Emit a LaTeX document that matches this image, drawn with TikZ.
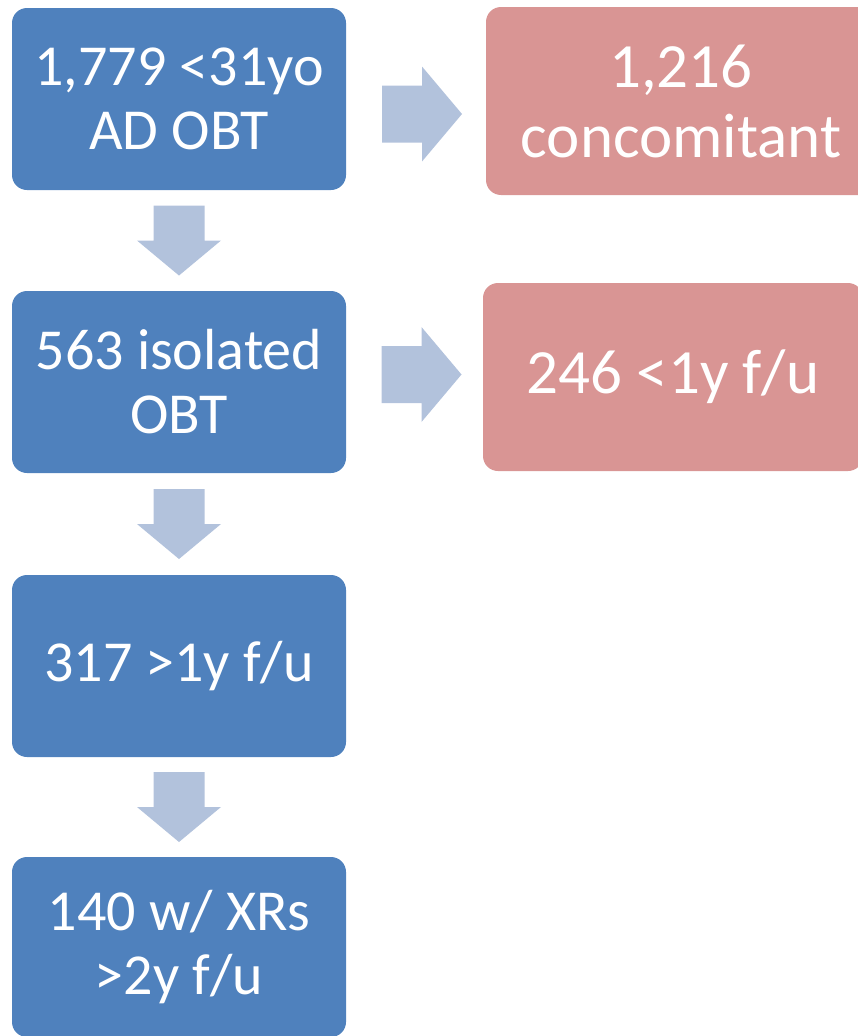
\documentclass[tikz,border=0pt]{standalone}
\usepackage{fontspec}
\setmainfont{Carlito}
\usetikzlibrary{calc}
\definecolor{boxblue}{RGB}{79,129,189}
\definecolor{boxpink}{RGB}{217,149,148}
\definecolor{arrowblue}{RGB}{178,194,220}
\newcommand{\blockarrow}[5]{\fill[arrowblue, shift={(#1)}, rotate=#2] (-#3,-#4) -- (0,-#4) -- (0,-#5) -- (#3,0) -- (0,#5) -- (0,#4) -- (-#3,#4) -- cycle;}

\begin{document}
\begin{tikzpicture}[x=1pt, y=-1pt,
		flowbox/.style={fill=boxblue, rounded corners=15pt, inner sep=0pt, align=center, text=white,
			minimum width=334pt, minimum height=182pt, font=\fontsize{58}{64}\selectfont},
		sidebox/.style={flowbox, fill=boxpink, minimum height=188pt, font=\fontsize{63}{70}\selectfont}]
			%%%%% START %%%%%
			
			\clip (0, 0) rectangle (858, 1036);
			
			\node[flowbox] (obt) at (179, 99) {1,779 <31yo\\AD OBT};
			\node[flowbox] (isolated) at (179, 382) {563 isolated\\OBT};
			\node[flowbox] (longfu) at (179, 666) {317 >1y f/u};
			\node[flowbox, minimum height=180pt] (xrs) at (179, 947) {140 w/ XRs\\>2y f/u};
			
			\node[sidebox, minimum width=390pt] (concom) at (681, 101) {1,216\\concomitant};
			\node[sidebox, minimum width=380pt] (shortfu) at (673, 377) {246 <1y f/u};
			
			\blockarrow{$(obt.south)!0.5!(isolated.north)$}{-90}{35}{25.5}{42}
			\blockarrow{$(isolated.south)!0.5!(longfu.north)$}{-90}{35}{25.5}{42}
			\blockarrow{$(longfu.south)!0.5!(xrs.north)$}{-90}{35}{25.5}{42}
			
			\blockarrow{$(obt.east)!0.5!(concom.west)+(6, 14)$}{0}{40}{28.5}{47.5}
			\blockarrow{$(isolated.east)!0.5!(shortfu.west)+(7, -5)$}{0}{40}{28.5}{47.5}
			
			%%%%% END %%%%%
		\end{tikzpicture}
\end{document}
